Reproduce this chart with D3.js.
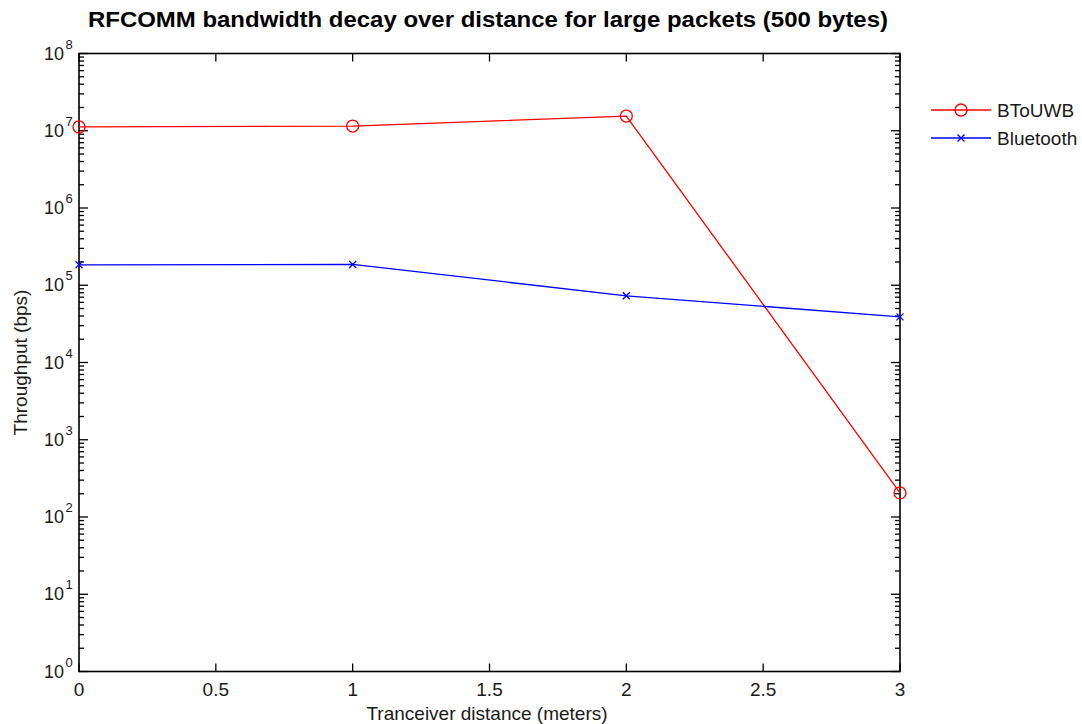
<!DOCTYPE html>
<html>
<head>
<meta charset="utf-8">
<script src="https://cdn.jsdelivr.net/npm/d3@7"></script>
<style>
  body { margin: 0; background: #fff; }
  svg { display: block; font-family: "Liberation Sans", Arial, sans-serif; }
</style>
</head>
<body>
<svg></svg>
<script>
const w = 1082
const h = 724
const svg = d3.select("svg").attr("width", w).attr("height", h)

// data
const distances = [0, 1, 2, 3]
const btouwb = [1.12e7, 1.15e7, 1.55e7, 205]
const bluetooth = [1.84e5, 1.86e5, 7.3e4, 3.9e4]
const xTicks = [0, 0.5, 1, 1.5, 2, 2.5, 3]
const yExponents = [0, 1, 2, 3, 4, 5, 6, 7, 8]

const series = [
    { name: "BToUWB", values: btouwb, color: "#ff0000", marker: "circle" },
    { name: "Bluetooth", values: bluetooth, color: "#0000ff", marker: "x" }
]

// plot box
const plotLeft = 79
const plotRight = 900
const plotTop = 53.5
const plotBottom = 671.5

const x = d3.scaleLinear().domain([0, 3]).range([plotLeft, plotRight])
const y = d3.scaleLog().domain([1, 1e8]).range([plotBottom, plotTop])

// minor log ticks
const minorTicks = []
for (let e = 0; e < 8; e++) {
    for (let k = 2; k <= 9; k++) minorTicks.push(k * Math.pow(10, e))
}
const majorTicks = yExponents.map(e => Math.pow(10, e))

const axes = svg.append("g").attr("stroke", "#000").attr("stroke-width", 1.3)

// left / right y ticks (inward)
const drawYTicks = (vals, len) => {
    axes.selectAll(null).data(vals).enter().append("line")
        .attr("x1", plotLeft).attr("x2", plotLeft + len)
        .attr("y1", d => y(d)).attr("y2", d => y(d))
    axes.selectAll(null).data(vals).enter().append("line")
        .attr("x1", plotRight).attr("x2", plotRight - len)
        .attr("y1", d => y(d)).attr("y2", d => y(d))
}
drawYTicks(minorTicks, 5)
drawYTicks(majorTicks, 9)

// bottom / top x ticks (inward)
axes.selectAll(null).data(xTicks).enter().append("line")
    .attr("x1", d => x(d)).attr("x2", d => x(d))
    .attr("y1", plotBottom).attr("y2", plotBottom - 8)
axes.selectAll(null).data(xTicks).enter().append("line")
    .attr("x1", d => x(d)).attr("x2", d => x(d))
    .attr("y1", plotTop).attr("y2", plotTop + 8)

// box
svg.append("rect")
    .attr("x", plotLeft).attr("y", plotTop)
    .attr("width", plotRight - plotLeft).attr("height", plotBottom - plotTop)
    .attr("fill", "none").attr("stroke", "#000").attr("stroke-width", 1.6)

// y tick labels 10^n
const yl = svg.append("g").attr("fill", "#1a1a1a")
yExponents.forEach(e => {
    yl.append("text")
        .attr("x", 64).attr("y", y(Math.pow(10, e)) + 6)
        .attr("text-anchor", "end")
        .attr("font-size", 18)
        .text("10")
    yl.append("text")
        .attr("x", 65.5).attr("y", y(Math.pow(10, e)) - 5)
        .attr("font-size", 13)
        .text(e)
})

// x tick labels
svg.append("g").selectAll("text").data(xTicks).enter().append("text")
    .attr("x", d => x(d)).attr("y", plotBottom + 24)
    .attr("text-anchor", "middle")
    .attr("font-size", 19)
    .attr("fill", "#1a1a1a")
    .text(d => d)

// titles
svg.append("text")
    .attr("x", 488).attr("y", 27)
    .attr("text-anchor", "middle")
    .attr("font-size", 22).attr("font-weight", "bold")
    .attr("textLength", 800).attr("lengthAdjust", "spacingAndGlyphs")
    .text("RFCOMM bandwidth decay over distance for large packets (500 bytes)")

svg.append("text")
    .attr("x", 487).attr("y", 720)
    .attr("text-anchor", "middle")
    .attr("font-size", 19)
    .attr("fill", "#1a1a1a")
    .text("Tranceiver distance (meters)")

svg.append("text")
    .attr("transform", `translate(27, ${(plotTop + plotBottom) / 2}) rotate(-90)`)
    .attr("text-anchor", "middle")
    .attr("font-size", 19)
    .attr("fill", "#1a1a1a")
    .text("Throughput (bps)")

// lines and markers
const line = d3.line()
    .x((d, i) => x(distances[i]))
    .y(d => y(d))

const drawMarker = (g, s, cx, cy) => {
    if (s.marker === "circle") {
        g.append("circle").attr("cx", cx).attr("cy", cy).attr("r", 6)
            .attr("fill", "none").attr("stroke", s.color).attr("stroke-width", 1.3)
    } else {
        g.append("path")
            .attr("d", `M${cx - 3.5},${cy - 3.5}L${cx + 3.5},${cy + 3.5}M${cx - 3.5},${cy + 3.5}L${cx + 3.5},${cy - 3.5}`)
            .attr("stroke", s.color).attr("stroke-width", 1.3)
    }
}

series.forEach(s => {
    const g = svg.append("g")
    g.append("path")
        .datum(s.values)
        .attr("d", line)
        .attr("fill", "none")
        .attr("stroke", s.color)
        .attr("stroke-width", 1.3)
    s.values.forEach((v, i) => drawMarker(g, s, x(distances[i]), y(v)))
})

// legend
const legend = svg.append("g")
series.forEach((s, i) => {
    const ly = 110 + i * 28
    legend.append("line")
        .attr("x1", 931).attr("x2", 991).attr("y1", ly).attr("y2", ly)
        .attr("stroke", s.color).attr("stroke-width", 1.3)
    drawMarker(legend, s, 961, ly)
    legend.append("text")
        .attr("x", 997).attr("y", ly + 7)
        .attr("font-size", 19)
        .attr("fill", "#1a1a1a")
        .text(s.name)
})
</script>
</body>
</html>
